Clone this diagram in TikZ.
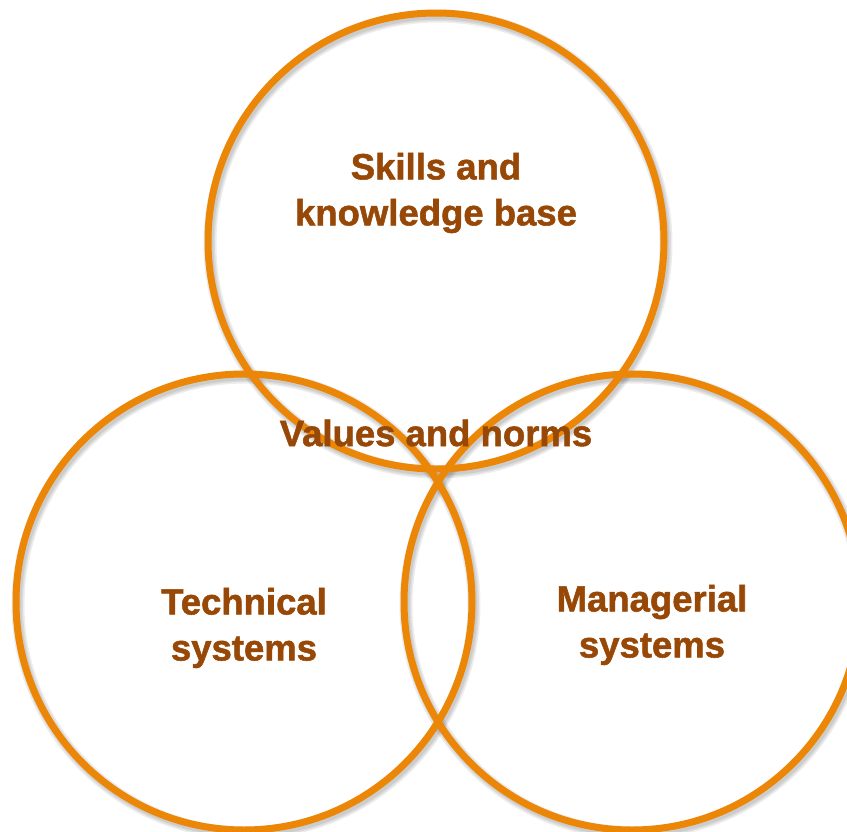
\documentclass[tikz,border=0pt]{standalone}
\usepackage{fontspec}
\setmainfont[BoldFeatures={FakeBold=1.5}]{Liberation Sans}
\usetikzlibrary{calc}
\begin{document}
\definecolor{ringorange}{RGB}{236,134,6}
\definecolor{labelbrown}{RGB}{151,72,6}
\begin{tikzpicture}[x=1pt,y=-1pt,
  ring/.style={circle, draw=ringorange, line width=7pt, minimum size=456pt, inner sep=0pt},
  ringshadow/.style={circle, draw=black, line width=#1, draw opacity=0.07, minimum size=456pt, inner sep=0pt},
  label/.style={text=labelbrown, font=\bfseries\fontsize{36.5}{46}\selectfont, align=center}]
  \useasboundingbox (0,0) rectangle (847,831);
  % soft shadows under the rings
  \foreach \c in {{436,241},{244,602},{632,602}}{
    \foreach \w in {13pt,10pt,7pt}{
      \node[ringshadow=\w] at ($(\c)+(2,3)$) {};
    }
  }
  % the three rings
  \node[ring] (skills) at (436,241) {};
  \node[ring] (technical) at (244,602) {};
  \node[ring] (managerial) at (632,602) {};
  % labels
  \node[label] (skillsT) at (436,193) {Skills and\\knowledge base};
  \node[label] (values) at (436,433) {Values and norms};
  \node[label] (techT) at (244,628) {Technical\\systems};
  \node[label] (manT) at (652,625) {Managerial\\systems};
\end{tikzpicture}
\end{document}
